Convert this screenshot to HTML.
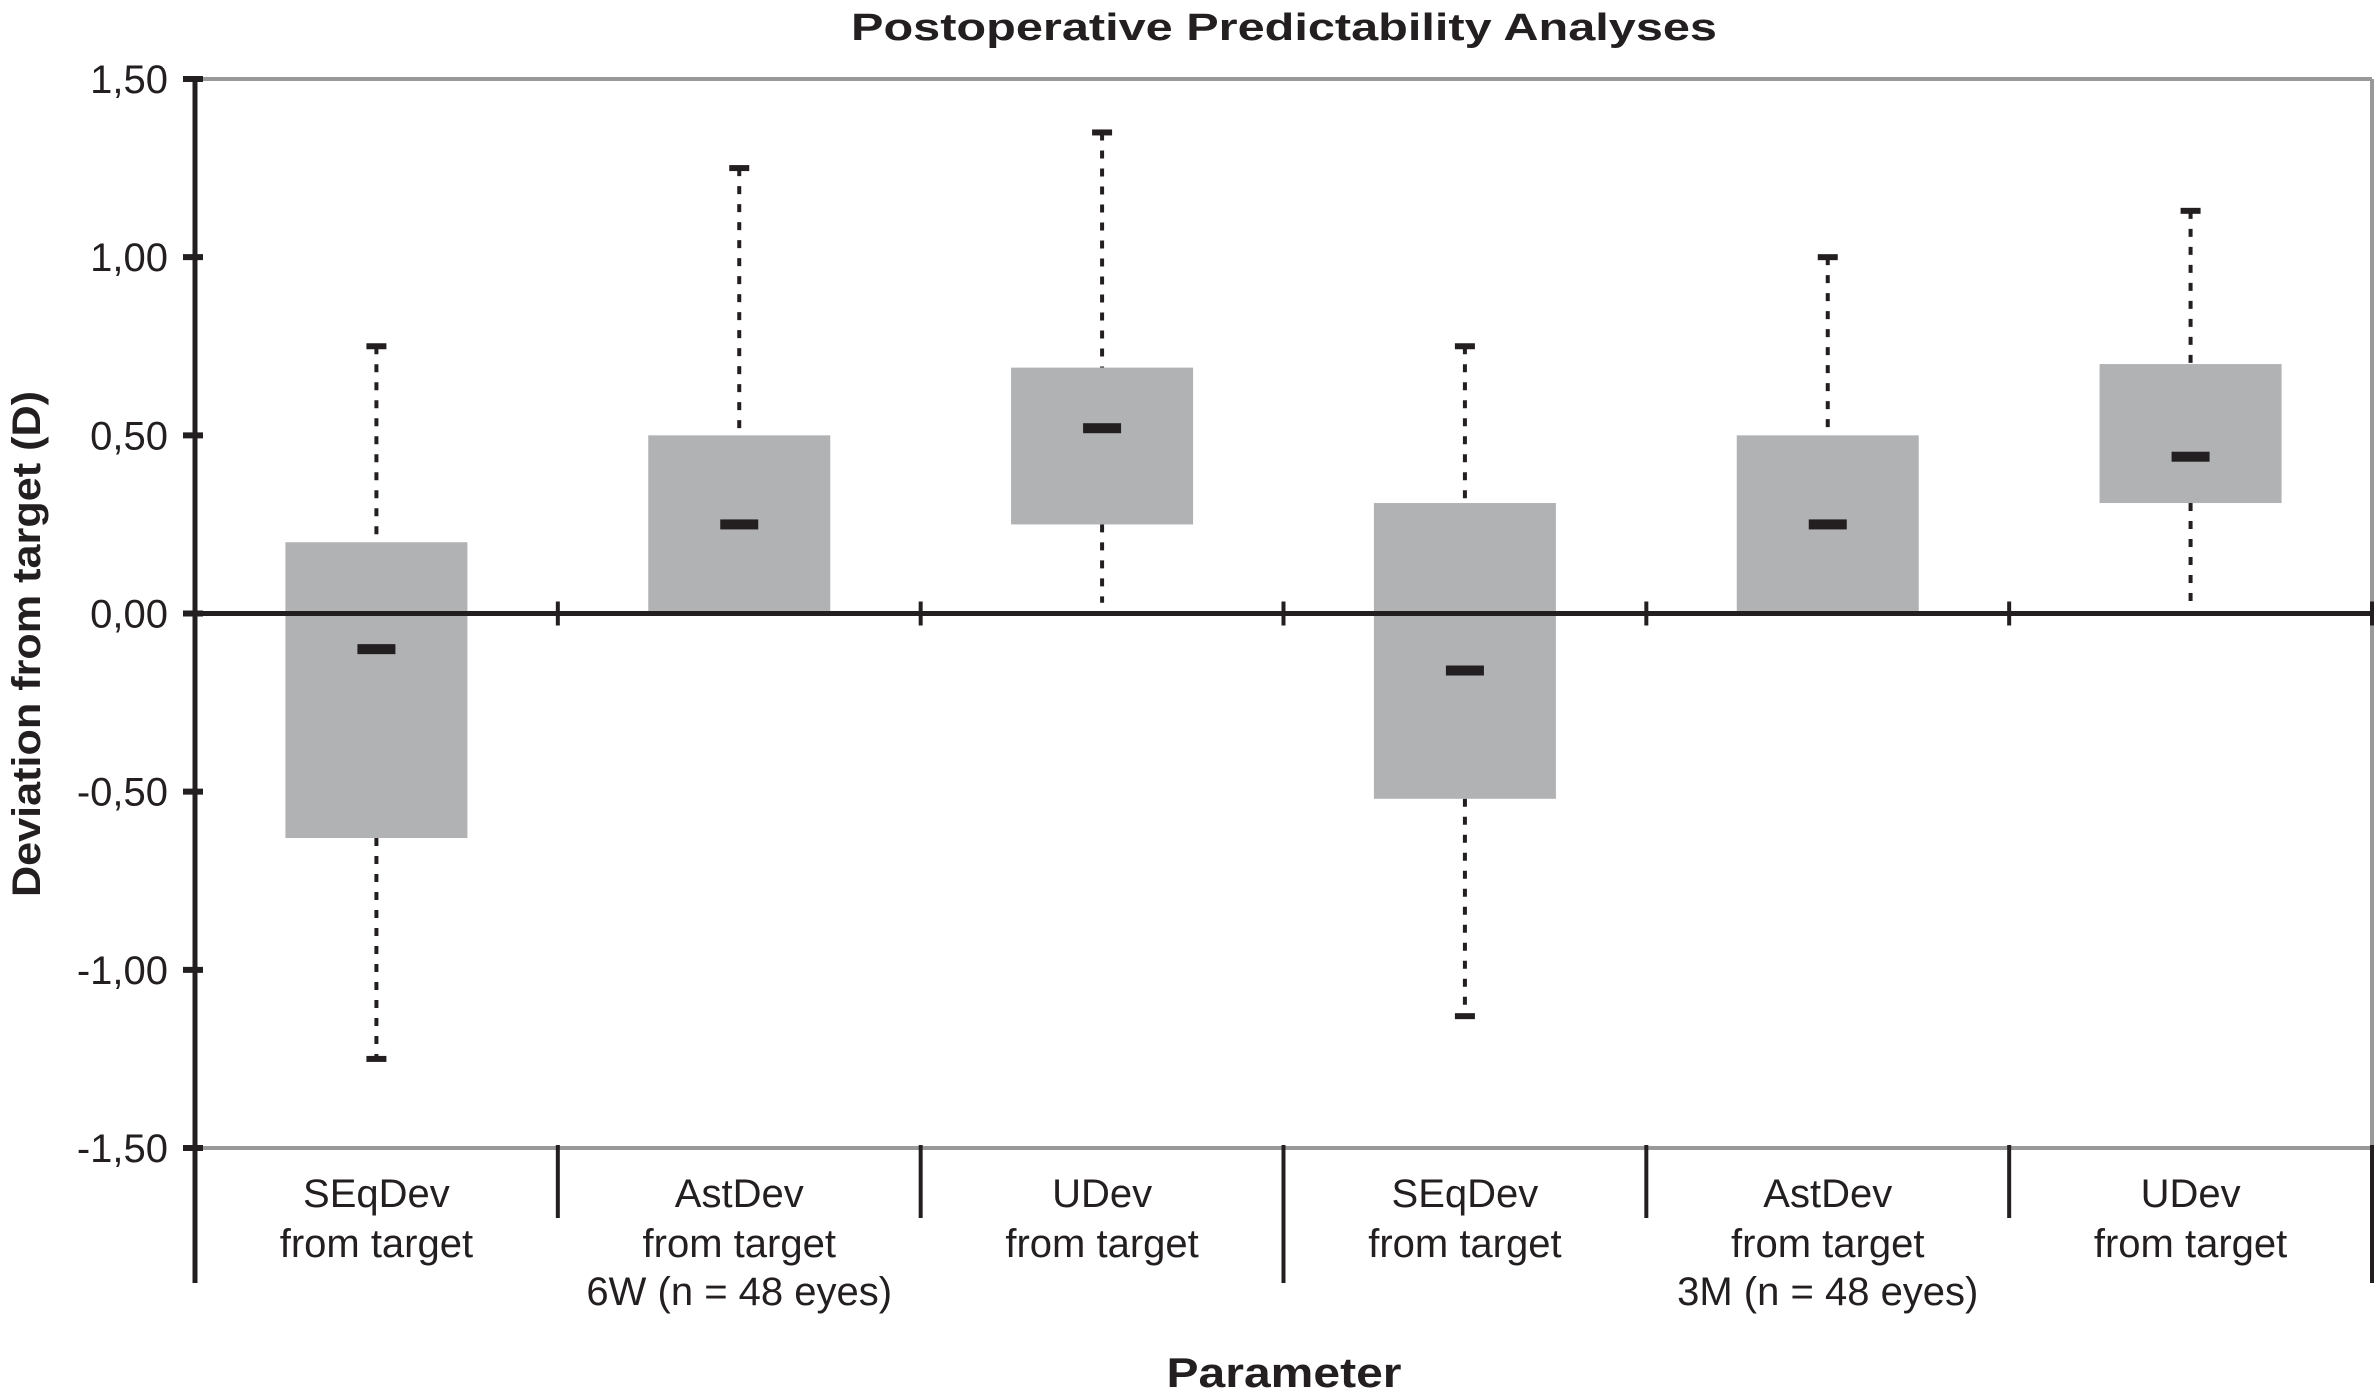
<!DOCTYPE html>
<html><head><meta charset="utf-8"><style>
html,body{margin:0;padding:0;background:#fff;}
svg{display:block;font-family:"Liberation Sans",sans-serif;}
</style></head><body>
<svg id="chart" width="2377" height="1399" viewBox="0 0 2377 1399" xmlns="http://www.w3.org/2000/svg">
<text x="1284" y="40" text-anchor="middle" font-size="38" font-weight="bold" textLength="866" lengthAdjust="spacingAndGlyphs" fill="#231f20">Postoperative Predictability Analyses</text>
<text transform="translate(40,644) rotate(-90)" text-anchor="middle" font-size="40" font-weight="bold" textLength="506" lengthAdjust="spacingAndGlyphs" fill="#231f20">Deviation from target (D)</text>
<text x="1284" y="1387" text-anchor="middle" font-size="42" font-weight="bold" textLength="235" lengthAdjust="spacingAndGlyphs" fill="#231f20">Parameter</text>
<g id="plot"></g>
</svg>
<script>
const categories1 = ["SEqDev", "AstDev", "UDev", "SEqDev", "AstDev", "UDev"];
const categories2 = ["from target", "from target", "from target", "from target", "from target", "from target"];
const categories3 = ["", "6W (n = 48 eyes)", "", "", "3M (n = 48 eyes)", ""];
const q1Values = [-0.63, 0.00, 0.25, -0.52, 0.00, 0.31];
const q3Values = [0.20, 0.50, 0.69, 0.31, 0.50, 0.70];
const medianValues = [-0.10, 0.25, 0.52, -0.16, 0.25, 0.44];
const minValues = [-1.25, 0.00, 0.03, -1.13, 0.00, 0.03];
const maxValues = [0.75, 1.25, 1.35, 0.75, 1.00, 1.13];
const yTickValues = [1.5, 1.0, 0.5, 0.0, -0.5, -1.0, -1.5];
const yTickLabels = ["1,50", "1,00", "0,50", "0,00", "-0,50", "-1,00", "-1,50"];

const NS = "http://www.w3.org/2000/svg";
const g = document.getElementById("plot");
const X0 = 195, X1 = 2372, Y0 = 79, Y1 = 1148;
const catW = (X1 - X0) / categories1.length;
function yScale(v){ return Y0 + (1.5 - v) / 3.0 * (Y1 - Y0); }
function xCenter(i){ return X0 + catW * (i + 0.5); }
function mk(tag, attrs){ const e = document.createElementNS(NS, tag); for (const k in attrs) e.setAttribute(k, attrs[k]); g.appendChild(e); return e; }

let e = mk("line", {x1: X0, y1: Y0, x2: X1, y2: Y0, stroke: "#999", "stroke-width": 4});


e = mk("line", {x1: X1, y1: Y0, x2: X1, y2: Y1, stroke: "#999", "stroke-width": 4});


e = mk("line", {x1: X0, y1: Y1, x2: X1, y2: Y1, stroke: "#999", "stroke-width": 4});



for (let i = 0; i < categories1.length; i++) {
  const cx = xCenter(i), bw = 182;
  const w1 = mk("line", {x1: cx, y1: yScale(maxValues[i]), x2: cx, y2: yScale(q3Values[i]), stroke: "#231f20", "stroke-width": 4, "stroke-dasharray": "8 10"});
  
  
  const w2 = mk("line", {x1: cx, y1: yScale(q1Values[i]), x2: cx, y2: yScale(minValues[i]), stroke: "#231f20", "stroke-width": 4, "stroke-dasharray": "8 10"});
  
  
  const b = mk("rect", {x: cx - bw/2, y: yScale(q3Values[i]), width: bw, height: yScale(q1Values[i]) - yScale(q3Values[i]), fill: "#b1b2b4"});
  
  
  const c1 = mk("rect", {x: cx - 10, y: yScale(maxValues[i]) - 3, width: 20, height: 6, fill: "#231f20"});
  
  
  if (minValues[i] < -0.05) {
    const c2 = mk("rect", {x: cx - 10, y: yScale(minValues[i]) - 3, width: 20, height: 6, fill: "#231f20"});
    
    
  }
  const m = mk("rect", {x: cx - 19, y: yScale(medianValues[i]) - 5, width: 38, height: 10, fill: "#231f20"});
  
  
}

e = mk("line", {x1: X0, y1: yScale(0), x2: X1, y2: yScale(0), stroke: "#231f20", "stroke-width": 5});


for (let i = 1; i <= categories1.length; i++) {
  const x = X0 + catW * i;
  const t = mk("line", {x1: x, y1: yScale(0) - 12, x2: x, y2: yScale(0) + 12, stroke: "#231f20", "stroke-width": 4});
  
  
  const long = (i === 3 || i === 6);
  const s = mk("line", {x1: x, y1: Y1 - 3, x2: x, y2: long ? 1283 : 1218, stroke: "#231f20", "stroke-width": 4});
  
  
}

e = mk("line", {x1: X0, y1: Y0 - 2, x2: X0, y2: 1283, stroke: "#231f20", "stroke-width": 5});


for (let k = 0; k < yTickValues.length; k++) {
  const y = yScale(yTickValues[k]);
  const t = mk("line", {x1: X0 - 12, y1: y, x2: X0 + 8, y2: y, stroke: "#231f20", "stroke-width": 6});
  
  
  const l = mk("text", {x: 168, y: y + 14, "text-anchor": "end", "font-size": 40, fill: "#231f20"});
  l.textContent = yTickLabels[k];
  
  
}

const rows = [categories1, categories2, categories3];
const rowY = [1207, 1257, 1305];
for (let i = 0; i < categories1.length; i++) {
  for (let r = 0; r < 3; r++) {
    if (!rows[r][i]) continue;
    const l = mk("text", {x: xCenter(i), y: rowY[r], "text-anchor": "middle", "font-size": 40, fill: "#231f20"});
    l.textContent = rows[r][i];
    
    
  }
}
</script>
</body></html>
